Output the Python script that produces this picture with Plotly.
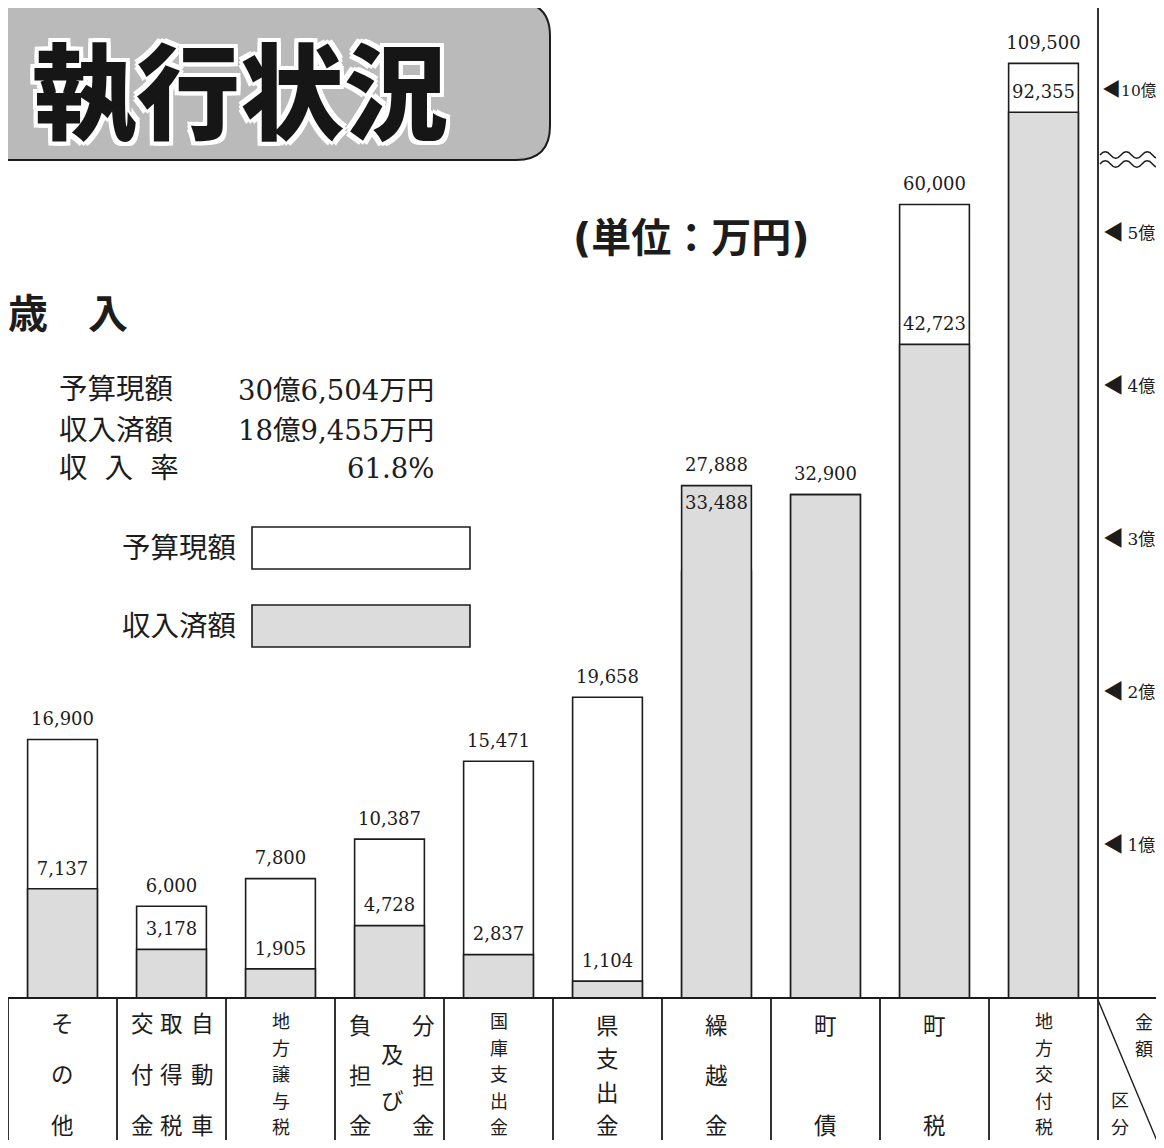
import plotly.graph_objects as go

# ---------------- data ----------------
categories = ["その他", "自動車取得税交付金", "地方譲与税", "分担金及び負担金", "国庫支出金",
              "県支出金", "繰越金", "町債", "町税", "地方交付税"]
budget = [16900, 6000, 7800, 10387, 15471, 19658, 27888, 32900, 60000, 109500]
received = [7137, 3178, 1905, 4728, 2837, 1104, 33488, 32900, 42723, 92355]

tick_vals_low = [10000, 20000, 30000, 40000, 50000]
tick_text_low = ["◀ 1億", "◀ 2億", "◀ 3億", "◀ 4億", "◀ 5億"]
tick_vals_high = [100000]
tick_text_high = ["◀10億"]
break_value = 50000
upper_max = 115000

summary_labels = ["予算現額", "収入済額", "収\u2002\u200a入\u2002\u200a率"]
summary_values = ["30億6,504万円", "18億9,455万円", "61.8%"]
legend_labels = ["予算現額", "収入済額"]
title_text = "執行状況"
section_text = "歳　入"
unit_text = "(単位：万円)"
corner_top = "金額"
corner_bottom = "区分"

# ---------------- layout helpers ----------------
W, H, OFF = 1148, 1132, 8
INK = "#1c1c1c"
GREY = "#dcdcdc"
SERIF = "DejaVu Serif, Noto Sans CJK JP"
JP = "Noto Sans CJK JP"


def PX(x):
    return (x - OFF) / W


def PY(y):
    return 1 - (y - OFF) / H


BASE_Y = 998
BREAK_Y = 233
TOP_Y = BREAK_Y - (upper_max - break_value) / 1000 * 2.85
X_LEFT, X_RIGHT = 8, 1098


def ann(text, x, y, size, family=JP, xanchor="center", yanchor="middle", xref="paper", **fontkw):
    return dict(text=text, x=x, y=y, xref=xref, yref="paper", showarrow=False,
                xanchor=xanchor, yanchor=yanchor,
                font=dict(family=family, size=size, color=fontkw.pop("color", INK), **fontkw))


fig = go.Figure()

# bars (drawn on both the lower and the compressed upper axis; each axis clips them)
for ax in ["y", "y2"]:
    fig.add_trace(go.Bar(x=categories, y=budget, yaxis=ax, width=0.64,
                         marker=dict(color="white", line=dict(color=INK, width=1.6)),
                         showlegend=False, hoverinfo="skip"))
    fig.add_trace(go.Bar(x=categories, y=received, yaxis=ax, width=0.64,
                         marker=dict(color=GREY, line=dict(color=INK, width=1.6)),
                         showlegend=False, hoverinfo="skip"))

# value labels
labels = {"y": [], "y2": []}
for c, b, r in zip(categories, budget, received):
    top = max(b, r)
    labels["y2" if top > break_value else "y"].append((c, top, f"{b:,}", "top center"))
    if r != b:
        pos = "top center" if r < b else "bottom center"
        labels["y2" if r > break_value else "y"].append((c, r, f"{r:,}", pos))

for ax, items in labels.items():
    fig.add_trace(go.Scatter(
        x=[i[0] for i in items], y=[i[1] for i in items], text=[i[2] for i in items],
        textposition=[i[3] for i in items], mode="markers+text", yaxis=ax,
        marker=dict(size=14, color="rgba(0,0,0,0)"), cliponaxis=False,
        textfont=dict(family=SERIF, size=18, color=INK),
        showlegend=False, hoverinfo="skip"))

shapes = []
annotations = []

# title box
x1 = PX(550)
rx, ry = 34 / W, 34 / H
yt, yb = PY(2), PY(160)
shapes.append(dict(type="path", xref="paper", yref="paper",
                   path=f"M -0.02 {yt} L {x1 - rx} {yt} Q {x1} {yt} {x1} {yt - ry} "
                        f"L {x1} {yb + ry} Q {x1} {yb} {x1 - rx} {yb} L -0.02 {yb} Z",
                   fillcolor="#bababa", line=dict(color=INK, width=2)))
shadow = ", ".join(f"{dx}px {dy}px 0 #fff" for dx in (-4, 0, 4) for dy in (-4, 0, 4) if dx or dy)
annotations.append(ann(title_text, PX(240), PY(86), 104, color="#161616", weight=900, shadow=shadow))

# headings
annotations.append(ann(unit_text, PX(691), PY(238), 40, family="DejaVu Sans, Noto Sans CJK JP",
                       weight="bold"))
annotations.append(ann(section_text, PX(6), PY(311), 40, xanchor="left", weight="bold"))

# summary
for lab, val, yy in zip(summary_labels, summary_values, [390, 430, 468]):
    annotations.append(ann(lab, PX(57), PY(yy), 28.5, family=SERIF, xanchor="left"))
    annotations.append(ann(val, PX(436), PY(yy), 27.5, family=SERIF, xanchor="right"))

# legend
for lab, yy, fill in zip(legend_labels, [548, 626], ["white", GREY]):
    annotations.append(ann(lab, PX(238), PY(yy), 28.5, family=SERIF, xanchor="right"))
    shapes.append(dict(type="rect", xref="paper", yref="paper",
                       x0=PX(252), x1=PX(470), y0=PY(yy + 21), y1=PY(yy - 21),
                       fillcolor=fill, line=dict(color=INK, width=1.6)))

# table grid
shapes.append(dict(type="line", xref="paper", yref="paper", x0=0, x1=1.02,
                   y0=PY(BASE_Y), y1=PY(BASE_Y), line=dict(color=INK, width=1.8)))
for i in range(len(categories)):
    shapes.append(dict(type="line", xref="x", yref="paper", x0=i - 0.5, x1=i - 0.5,
                       y0=0, y1=PY(BASE_Y), line=dict(color=INK, width=1.8)))
shapes.append(dict(type="line", xref="paper", yref="paper", x0=PX(X_RIGHT), x1=PX(X_RIGHT),
                   y0=0, y1=1.02, line=dict(color=INK, width=1.8)))
shapes.append(dict(type="line", xref="paper", yref="paper", x0=PX(X_RIGHT), x1=PX(1160),
                   y0=PY(BASE_Y + 2), y1=PY(1148), line=dict(color=INK, width=1.4)))

# axis break (wavy lines)
period, amp = 21, 3.2
for yy in (155, 164):
    x0 = X_RIGHT + 2
    p = f"M {PX(x0)} {PY(yy)}"
    k = 0
    while x0 + period / 2 * (k + 1) <= 1170:
        xa = x0 + period / 2 * k
        sign = 1 if k % 2 == 0 else -1
        p += f" Q {PX(xa + period / 4)} {PY(yy - sign * 2 * amp)} {PX(xa + period / 2)} {PY(yy)}"
        k += 1
    shapes.append(dict(type="path", xref="paper", yref="paper", path=p,
                       line=dict(color=INK, width=1.4)))

# table cell labels, written vertically: (chars, x offset in slots, first-char y px, last-char y px)
cell_layout = {
    0: [("その他", 0.0, 1022, 1124)],
    1: [("交付金", -0.266, 1022, 1124), ("取得税", 0.0, 1022, 1124), ("自動車", 0.284, 1022, 1124)],
    2: [("地方譲与税", 0.0, 1020, 1126)],
    3: [("負担金", -0.27, 1024, 1124), ("及び", 0.03, 1053, 1099), ("分担金", 0.31, 1024, 1124)],
    4: [("国庫支出金", 0.0, 1020, 1126)],
    5: [("県支出金", 0.0, 1024, 1124)],
    6: [("繰越金", 0.0, 1024, 1124)],
    7: [("町債", 0.0, 1024, 1124)],
    8: [("町税", 0.0, 1024, 1124)],
    9: [("地方交付税", 0.0, 1020, 1126)],
}


def char_positions(chars, y_first, y_last):
    n = len(chars)
    step = (y_last - y_first) / (n - 1) if n > 1 else 0
    return [(ch, y_first + k * step) for k, ch in enumerate(chars)]


for i, cols in cell_layout.items():
    for chars, dx, y_first, y_last in cols:
        size = 18 if len(chars) >= 5 else 22.5
        for ch, yy in char_positions(chars, y_first, y_last):
            annotations.append(ann(ch, i + dx, PY(yy), size, xref="x"))
for ch, yy in char_positions(corner_top, 1021, 1047.5):
    annotations.append(ann(ch, PX(1144), PY(yy), 18))
for ch, yy in char_positions(corner_bottom, 1099, 1125.5):
    annotations.append(ann(ch, PX(1120), PY(yy), 18))


def tick_html(t, tri):
    span = f"<span style=\"font-family:'Noto Sans CJK JP'; font-size:{tri}px\">◀</span>"
    return t.replace("◀ ", span + "\u2009").replace("◀", span)


fig.update_layout(
    width=W, height=H, margin=dict(l=0, r=0, t=0, b=0, autoexpand=False),
    paper_bgcolor="white", plot_bgcolor="rgba(0,0,0,0)",
    barmode="overlay", showlegend=False,
    xaxis=dict(domain=[PX(X_LEFT), PX(X_RIGHT)], range=[-0.5, len(categories) - 0.5],
               showticklabels=False, showgrid=False, zeroline=False, showline=False, ticks="",
               automargin=False),
    yaxis=dict(domain=[PY(BASE_Y), PY(BREAK_Y)], range=[0, break_value], anchor="x", side="right",
               tickvals=tick_vals_low, ticktext=[tick_html(t, 21) for t in tick_text_low],
               tickfont=dict(family=SERIF, size=17, color=INK), ticklabelstandoff=4, automargin=False,
               showgrid=False, zeroline=False, showline=False, ticks=""),
    yaxis2=dict(domain=[PY(BREAK_Y), PY(TOP_Y)], range=[break_value, upper_max], anchor="x", side="right",
                tickvals=tick_vals_high, ticktext=[tick_html(t, 19) for t in tick_text_high],
                tickfont=dict(family=SERIF, size=15.5, color=INK), ticklabelstandoff=3, automargin=False,
                showgrid=False, zeroline=False, showline=False, ticks=""),
    shapes=shapes, annotations=annotations,
)

fig.write_html("out.html")
